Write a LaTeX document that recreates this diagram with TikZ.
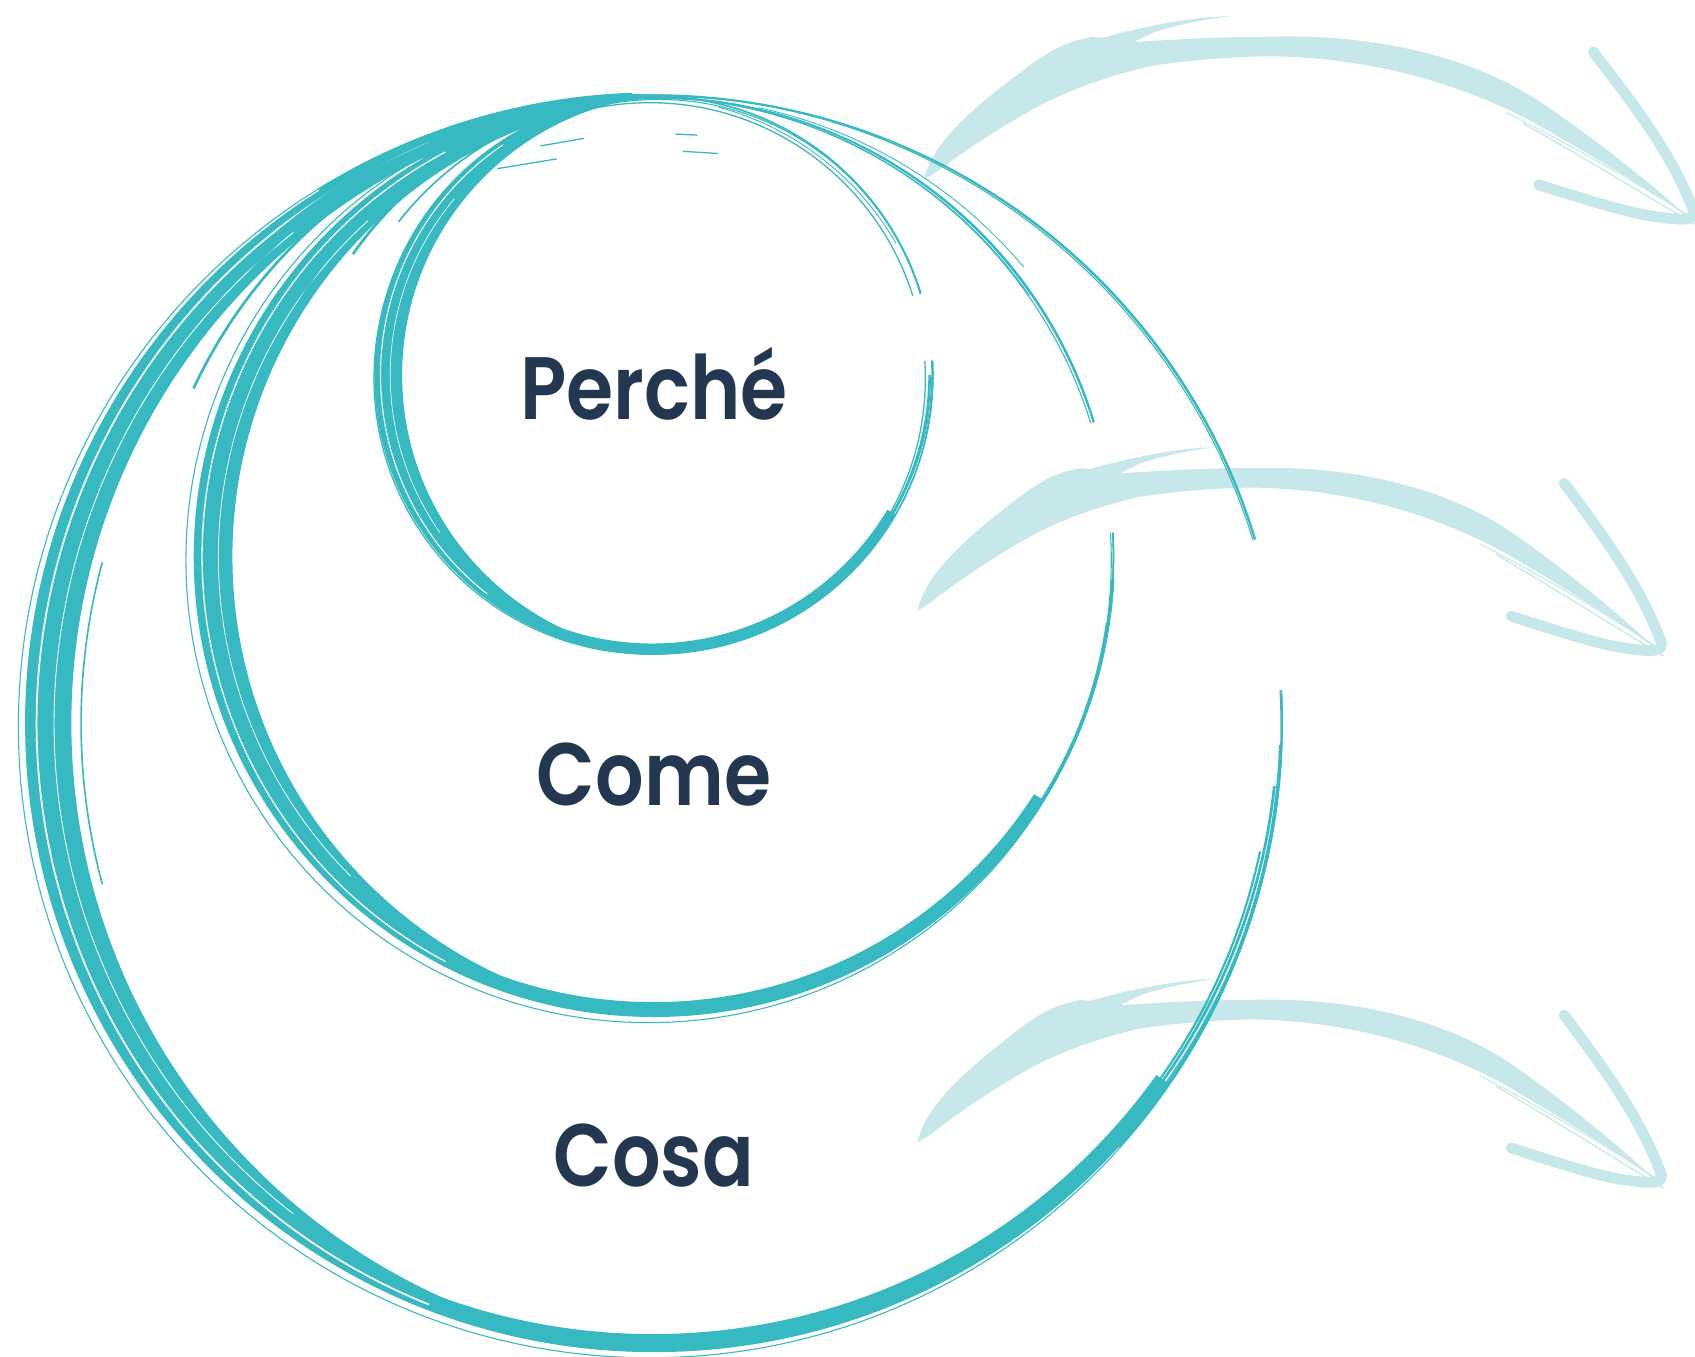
\documentclass[tikz,border=0pt]{standalone}
\usepackage{fontspec}
\newfontfamily\popfont{Poppins SemiBold}
\definecolor{ring}{HTML}{36B9C0}
\definecolor{arrowc}{HTML}{C7E8EA}
\definecolor{txt}{HTML}{233850}
\tikzset{
  lbl/.style={font=\popfont\fontsize{82}{82}\selectfont, text=txt, anchor=base, inner sep=0pt, xscale=0.86},
  strand/.style={draw=ring, line width=#1},
  gapline/.style={draw=white, line width=#1},
  brusharrow/.pic={
    \fill[arrowc] (0,0) .. controls (5,-30) and (40,-62) .. (67,-84)
      .. controls (90,-102) and (110,-120) .. (134,-128) -- (150,-132) -- (159,-131)
      .. controls (190,-140) and (240,-151) .. (273,-151)
      .. controls (250,-148) and (225,-143) .. (205,-136) -- (187,-127)
      .. controls (230,-130) and (270,-132) .. (308,-132) -- (308,-114)
      .. controls (260,-113) and (220,-108) .. (203,-105)
      .. controls (170,-97) and (140,-87) .. (110,-72)
      .. controls (80,-56) and (40,-30) .. (11,-7) -- cycle;
    \fill[arrowc] (307,-132) .. controls (401,-135) and (491,-114) .. (553,-70)
      .. controls (603,-35) and (651,5) .. (684,36)
      .. controls (650,10) and (600,-20) .. (546,-52)
      .. controls (481,-88) and (401,-113) .. (307,-114) -- cycle;
    \draw[arrowc, line width=1.2] (535,-52) .. controls (590,-20) and (640,12) .. (690,42);
    \draw[arrowc, line width=1.0] (520,-62) .. controls (585,-28) and (645,8) .. (684,34);
    \draw[arrowc, line width=10, line cap=round] (598,-118) .. controls (632,-72) and (668,-25) .. (688,30);
    \draw[arrowc, line width=10, line cap=round, line join=round] (549,5)
      .. controls (590,18) and (620,28) .. (645,33)
      .. controls (670,37) and (690,40) .. (688,30);
  }
}
\begin{document}
\begin{tikzpicture}[x=1pt, y=-1pt]
\useasboundingbox (0,0) rectangle (1568,1255);
\fill[white] (0,0) rectangle (1568,1255);

% arrows
\pic[xscale=1.035] at (855,166) {brusharrow};
\pic at (849,565) {brusharrow};
\pic at (849,1057) {brusharrow};

% ---------- outer circle (Cosa) ----------
\begin{scope}
  \clip (605,669) -- ++(-3:1500) arc[start angle=-3, end angle=343, radius=1500] -- cycle;
  \draw[strand=1.6] (605,669) circle[radius=581];
  \draw[strand=1.2] (609,666) circle[radius=577];
  \draw[strand=1.0] (601,672) circle[radius=584];
  \draw[strand=3] (600,669) ++(2:585) arc[start angle=2, end angle=42, radius=585];
  \draw[strand=2.5] (608,667) ++(6:574) arc[start angle=6, end angle=40, radius=574];
  \draw[strand=2] (612,670) ++(12:566) arc[start angle=12, end angle=38, radius=566];
  \draw[strand=5] (605,672) ++(238:584) arc[start angle=238, end angle=268, radius=584];
  \begin{scope}
    \clip (605,669) -- ++(35:1500) arc[start angle=35, end angle=250, radius=1500] -- cycle;
    \fill[ring, even odd rule] (605,669) circle[radius=581] ++(260:8) circle[radius=573];
  \end{scope}
  \begin{scope}
    \clip (605,669) circle[radius=581];
    \fill[ring, even odd rule] (-50,-50) rectangle (1700,1400) (648.6,669) circle[radius=582.6];
  \end{scope}
  \draw[gapline=1.6] (614,669) ++(112:580) arc[start angle=112, end angle=248, radius=580];
  \draw[gapline=0.8] (626,669) ++(128:576) arc[start angle=128, end angle=232, radius=576];
  \draw[gapline=0.6] (640,669) ++(145:568) arc[start angle=145, end angle=212, radius=568];
  \draw[strand=1.5] (650,669) ++(165:575) arc[start angle=165, end angle=195, radius=575];
\end{scope}

% ---------- middle circle (Come) ----------
\begin{scope}
  \clip (605,515) -- ++(-3:1500) arc[start angle=-3, end angle=343, radius=1500] -- cycle;
  \draw[strand=1.6] (605,515) circle[radius=425];
  \draw[strand=1.2] (609,512) circle[radius=421];
  \draw[strand=1.0] (600,518) circle[radius=428];
  \draw[strand=3] (603,513) ++(3:427) arc[start angle=3, end angle=38, radius=427];
  \draw[strand=2] (611,518) ++(8:417) arc[start angle=8, end angle=36, radius=417];
  \draw[strand=4] (605,517) ++(240:427) arc[start angle=240, end angle=266, radius=427];
  \begin{scope}
    \clip (605,515) -- ++(32:1500) arc[start angle=32, end angle=250, radius=1500] -- cycle;
    \fill[ring, even odd rule] (605,515) circle[radius=425] ++(265:6.5) circle[radius=418.5];
  \end{scope}
  \begin{scope}
    \clip (605,515) circle[radius=425];
    \fill[ring, even odd rule] (-50,-50) rectangle (1700,1400) (641.6,515) circle[radius=426.6];
  \end{scope}
  \draw[gapline=1.2] (611,515) ++(118:424) arc[start angle=118, end angle=242, radius=424];
  \draw[gapline=0.7] (620,515) ++(135:418) arc[start angle=135, end angle=228, radius=418];
\end{scope}

% ---------- inner circle (Perche) ----------
\begin{scope}
  \clip (605,347) -- ++(-3:1500) arc[start angle=-3, end angle=343, radius=1500] -- cycle;
  \draw[strand=1.6] (605,347) circle[radius=258];
  \draw[strand=1.0] (609,345) circle[radius=253];
  \draw[strand=1.2] (601,350) circle[radius=255];
  \draw[strand=2.5] (603,347) ++(0:257) arc[start angle=0, end angle=34, radius=257];
  \begin{scope}
    \clip (605,347) -- ++(30:1500) arc[start angle=30, end angle=235, radius=1500] -- cycle;
    \fill[ring, even odd rule] (605,347) circle[radius=258] ++(250:5) circle[radius=253];
  \end{scope}
  \begin{scope}
    \clip (605,347) circle[radius=258];
    \fill[ring, even odd rule] (-50,-50) rectangle (1700,1400) (631.3,347) circle[radius=259.3];
  \end{scope}
  \draw[gapline=1.0] (609,347) ++(128:257) arc[start angle=128, end angle=236, radius=257];
  \draw[gapline=0.6] (615,347) ++(145:254) arc[start angle=145, end angle=220, radius=254];
\end{scope}

% converging strands in the upper left
\draw[strand=2.5] (605,558) ++(205:470) arc[start angle=205, end angle=268, radius=470];
\draw[strand=1.5] (605,598) ++(212:510) arc[start angle=212, end angle=266, radius=510];
\draw[strand=3] (605,628) ++(215:540) arc[start angle=215, end angle=262, radius=540];
\draw[strand=1.5] (605,390) ++(218:300) arc[start angle=218, end angle=268, radius=300];
\draw[strand=2.5] (605,430) ++(215:340) arc[start angle=215, end angle=266, radius=340];
\draw[strand=1.2] (605,470) ++(210:380) arc[start angle=210, end angle=270, radius=380];

% thick brush cap at the top
\fill[ring] (430,118) .. controls (500,92) and (560,82) .. (640,90)
  .. controls (580,91) and (510,98) .. (440,124) -- cycle;

% thin strands in the upper right
\draw[strand=1.0] (600,520) ++(-80:430) arc[start angle=-80, end angle=-35, radius=430];
\draw[strand=0.8] (610,530) ++(-78:440) arc[start angle=-78, end angle=-40, radius=440];
\draw[strand=0.8] (595,360) ++(-75:270) arc[start angle=-75, end angle=-30, radius=270];

% short whisker marks near the top
\draw[strand=1.2] (500,135) -- (540,128);
\draw[strand=1.2] (460,156) -- (515,147);
\draw[strand=1.2] (625,124) -- (645,125);
\draw[strand=1.2] (632,140) -- (664,142);

% labels
\node[lbl] (why) at (605,388) {Perché};
\node[lbl] (how) at (605,745) {Come};
\node[lbl] (what) at (605,1098) {Cosa};
\end{tikzpicture}
\end{document}
